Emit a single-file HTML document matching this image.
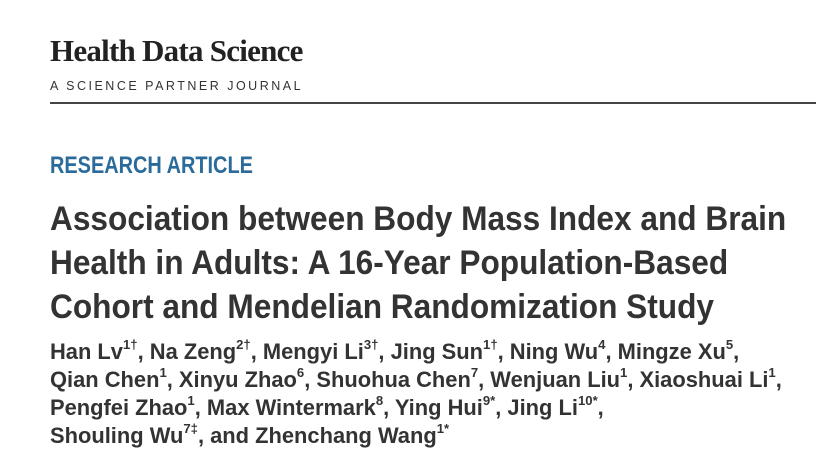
<!DOCTYPE html>
<html><head><meta charset="utf-8"><style>
html,body{margin:0;padding:0;background:#fff;width:816px;height:469px;overflow:hidden;}
.a{position:absolute;white-space:nowrap;transform-origin:0 0;}
.t{font-family:"Liberation Sans",sans-serif;font-weight:bold;color:#333;}
sup{font-size:60%;line-height:0;vertical-align:0.75em;}
</style></head><body>
<div class="a" style="left:50px;top:33px;font-family:'Liberation Serif',serif;font-weight:bold;font-size:31px;color:#222;letter-spacing:-0.75px">Health Data Science</div>
<div class="a" style="left:50px;top:79px;font-family:'Liberation Sans',sans-serif;font-size:12.5px;color:#333;letter-spacing:2.5px">A SCIENCE PARTNER JOURNAL</div>
<div class="a" style="left:50px;top:102px;width:766px;height:2px;background:#444"></div>
<div class="a t" style="left:50px;top:152px;font-size:24px;color:#2b6b9b;transform:scaleX(0.83)">RESEARCH ARTICLE</div>
<div class="a t" style="left:50px;top:200px;font-size:34px;transform:scaleX(0.93)">Association between Body Mass Index and Brain</div>
<div class="a t" style="left:50px;top:244px;font-size:34px;transform:scaleX(0.93)">Health in Adults: A 16-Year Population-Based</div>
<div class="a t" style="left:50px;top:288px;font-size:34px;transform:scaleX(0.93)">Cohort and Mendelian Randomization Study</div>
<div class="a t" style="left:50px;top:339px;font-size:22px;transform:scaleX(0.995)">Han Lv<sup>1†</sup>, Na Zeng<sup>2†</sup>, Mengyi Li<sup>3†</sup>, Jing Sun<sup>1†</sup>, Ning Wu<sup>4</sup>, Mingze Xu<sup>5</sup>,</div>
<div class="a t" style="left:50px;top:367px;font-size:22px;transform:scaleX(0.995)">Qian Chen<sup>1</sup>, Xinyu Zhao<sup>6</sup>, Shuohua Chen<sup>7</sup>, Wenjuan Liu<sup>1</sup>, Xiaoshuai Li<sup>1</sup>,</div>
<div class="a t" style="left:50px;top:395px;font-size:22px;transform:scaleX(0.995)">Pengfei Zhao<sup>1</sup>, Max Wintermark<sup>8</sup>, Ying Hui<sup>9*</sup>, Jing Li<sup>10*</sup>,</div>
<div class="a t" style="left:50px;top:423px;font-size:22px;transform:scaleX(0.995)">Shouling Wu<sup>7‡</sup>, and Zhenchang Wang<sup>1*</sup></div>
</body></html>
